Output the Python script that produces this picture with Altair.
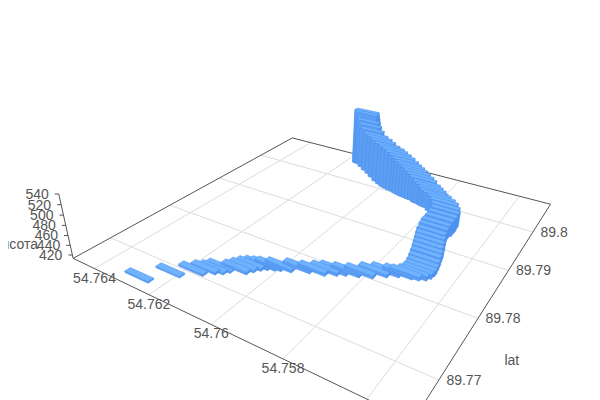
import altair as alt, pandas as pd
alt.data_transformers.disable_max_rows()

# track
lons = [54.76279,54.76229,54.76185,54.76163,54.76146,54.76136,54.76097,54.76087,54.76076,54.76063,54.76046,54.76032,54.76007,54.75965,54.75927,54.75901,54.75882,54.75851,54.75820,54.75792,54.75767,54.75735,54.75718,
54.75703,54.75696,54.75694,54.75697,54.75700,54.75705,54.75709,54.75716,54.75721,54.75728,54.75733,54.75736,54.75736,54.75732,54.75732,54.75735,54.75744,54.75757,54.75773,54.75791,54.75802,54.75811,54.75823,
54.75833,54.75849,54.75860,54.75873,54.75884,54.75896,54.75909,54.75923,54.75937,54.75952,54.75968,54.75985,54.76006,54.76031,54.76053,54.76077,54.76101,54.76120,54.76128,54.76130,54.76132,54.76133,54.76138]
lats = [89.76638,89.76895,89.77058,89.77154,89.77204,89.77270,89.77347,89.77421,89.77489,89.77540,89.77576,89.77606,89.77652,89.77748,89.77800,89.77874,89.77930,89.77984,89.78049,89.78152,89.78226,89.78271,89.78296,
89.78339,89.78396,89.78459,89.78544,89.78621,89.78717,89.78794,89.78891,89.78968,89.79069,89.79149,89.79239,89.79298,89.79365,89.79454,89.79565,89.79661,89.79749,89.79816,89.79876,89.79879,89.79903,89.79918,
89.79925,89.79963,89.79966,89.79983,89.79986,89.80003,89.80021,89.80053,89.80066,89.80081,89.80110,89.80154,89.80210,89.80297,89.80376,89.80451,89.80533,89.80607,89.80630,89.80625,89.80619,89.80616,89.80646]
heights = [416,416,417,417,417,417,418,418,418,418,418,418,419,419,419,419,419,419,419,419,419,420,420,
421,422,423,423,425,426,428,428,430,430,432,435,439,444,446,446,446,447,447,447,450,453,457,
461,466,471,475,480,484,487,490,495,499,502,503,503,503,503,503,507,512,520,527,534,538,541]
lon_ticks = [54.764,54.762,54.76,54.758,54.756]
lon_labels = ['54.764','54.762','54.76','54.758']
lat_ticks = [89.8,89.79,89.78,89.77]
lat_labels = ['89.8','89.79','89.78','89.77']
height_ticks = [420,440,460,480,500,520,540]
LONMIN,LONMAX,LATMIN,LATMAX = 54.75503,54.76486,89.7646,89.8087

# camera of the 3D scene
Vx,Vy,C,H0 = 300.0,1273.0,-0.000455,413.0
DL,DT = 0.00042,0.00041
def depth(lon,lat):
    return 1-0.23627*(54.764-lon)/0.008+0.31311*(lat-89.77)/0.03
def proj(lon,lat,h=H0):
    a=(54.764-lon)/0.008; b=(lat-89.77)/0.03; z=h-H0
    w=1-0.23627*a+0.31311*b+C*z
    return (170.32*a+236.01*b+131.66+C*z*Vx)/w,(28.84*a-36.19*b+246.94+C*z*Vy)/w

X=alt.X('x:Q',scale=alt.Scale(domain=[8,592],nice=False,zero=False),axis=None)
Y=alt.Y('y:Q',scale=alt.Scale(domain=[400,8],nice=False,zero=False),axis=None)
gid=0
def addline(rows,pts,kind):
    global gid
    for i,(x,y) in enumerate(pts): rows.append(dict(x=x,y=y,o=i,g=gid,k=kind))
    gid+=1
grid=[];edge=[]
for l in lon_ticks:
    addline(grid,[proj(l,LATMIN),proj(l,LATMAX)],'g')
for t in lat_ticks:
    addline(grid,[proj(LONMAX,t),proj(LONMIN,t)],'g')
addline(edge,[proj(LONMAX,LATMIN),proj(LONMAX,LATMAX),proj(LONMIN,LATMAX),proj(LONMIN,LATMIN),proj(LONMAX,LATMIN)],'e')
addline(edge,[proj(LONMAX,LATMIN),proj(LONMAX,LATMIN,540)],'e')
for h in height_ticks:
    x,y=proj(LONMAX,LATMIN,h); addline(edge,[(x,y),(x-4,y)],'e')
def area(P):
    return sum(P[i][0]*P[(i+1)%len(P)][1]-P[(i+1)%len(P)][0]*P[i][1] for i in range(len(P)))
bars=[]
for i in sorted(range(len(lons)),key=lambda i:-depth(lons[i],lats[i])):
    lo,la,h=lons[i],lats[i],heights[i]
    cs=[(lo+DL,la-DT),(lo-DL,la-DT),(lo-DL,la+DT),(lo+DL,la+DT)]
    for j in range(4):
        c1,c2=cs[j],cs[(j+1)%4]
        P=[proj(*c1),proj(*c2),proj(*c2,h),proj(*c1,h)]
        if area(P)<0:
            addline(bars,P+[P[0]],'#5c9ef3' if j==0 else '#5093ee')
    P=[proj(*c,h) for c in cs]
    addline(bars,P+[P[0]],'#6fb3ff')
def L(rows,color,w):
    return alt.Chart(pd.DataFrame(rows)).mark_line(clip=True,color=color,strokeWidth=w,interpolate='linear').encode(X,Y,detail='g:N',order='o:Q')
barl=alt.Chart(pd.DataFrame(bars)).mark_line(clip=True,filled=True,stroke='#4a8fec',strokeWidth=0.5,interpolate='linear').encode(X,Y,detail='g:N',order='o:Q',color=alt.Color('k:N',scale=None))
t=[]
for l,s in zip(lon_ticks,lon_labels):
    x,y=proj(l,LATMIN); t.append(dict(x=x,y=y+10,s=s,a='center'))
for la,s in zip(lat_ticks,lat_labels):
    x,y=proj(LONMIN,la); t.append(dict(x=x+7.5,y=y+1,s=s,a='left'))
for h in height_ticks:
    x,y=proj(LONMAX,LATMIN,h); t.append(dict(x=x-10,y=y+1,s=str(h),a='right'))
x,y=proj(LONMIN,89.773); t.append(dict(x=x+60,y=y+1,s='lat',a='center'))
x,y=proj(LONMAX,LATMIN,440); t.append(dict(x=38,y=y,s='высота',a='right'))
td=pd.DataFrame(t)
texts=[]
for a in ['center','left','right']:
    texts.append(alt.Chart(td[td.a==a]).mark_text(align=a,baseline='middle',font='Liberation Sans',fontSize=14,color='#555').encode(X,Y,text='s:N'))
chart=alt.layer(L(grid,'#dcdcdc',1),L(edge,'#555',1),barl,*texts).properties(width=584,height=392,padding=0,autosize=alt.AutoSizeParams(type='none')).configure_view(stroke=None)
chart.save("out.html", embed_options={"renderer": "svg", "actions": False})
